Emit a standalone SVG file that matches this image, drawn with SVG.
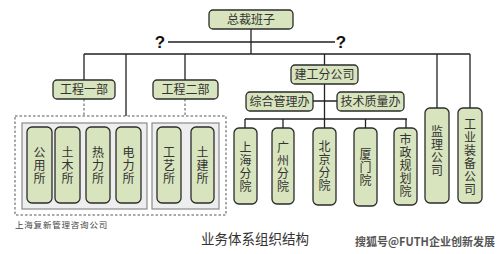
<svg xmlns="http://www.w3.org/2000/svg" width="499" height="254" viewBox="0 0 499 254">
<style>
.n{fill:#d7e4bd;stroke:#2b2b2b;stroke-width:1.3}
.g{fill:#eeeeee;stroke:#8a8a8a;stroke-width:1.2}
.t{font-family:"Noto Sans CJK SC","Noto Sans",sans-serif;font-size:12px;fill:#333;text-anchor:middle}
.v{font-family:"Noto Sans CJK SC","Noto Sans",sans-serif;font-size:12px;fill:#333;text-anchor:middle;writing-mode:vertical-rl;letter-spacing:1px}
.c{fill:none;stroke:#222;stroke-width:1.3}
.d{fill:none;stroke:#555;stroke-width:1;stroke-dasharray:2.5 2}
.q{font-family:"Liberation Sans",Arial,sans-serif;font-size:17px;font-weight:bold;fill:#111;text-anchor:middle}
</style>
<rect width="499" height="254" fill="#ffffff"/>
<g id="connectors">
<path class="c" d="M251 29V54M168 42H335M84 54H470M84 54V80M126 54V116M185 54V80M324.5 54V65M437 54V108M470 54V108M324.5 84V119M313 101H337M245 119H407M245 119V128M283 119V128M324.5 119V128M365.5 119V128M406 119V128"/>
<path class="d" d="M84 99V116M185 99V116"/>
<rect class="d" x="15" y="116" width="211" height="99"/>
</g>
<text class="q" x="160" y="48">?</text>
<text class="q" x="341" y="48">?</text>
<g id="zongcai"><rect class="n" x="209" y="10" width="84" height="19" rx="4"/><text class="t" x="251" y="24">总裁班子</text></g>
<g id="gc1"><rect class="n" x="53" y="80" width="62" height="19" rx="4"/><text class="t" x="84" y="94">工程一部</text></g>
<g id="gc2"><rect class="n" x="153" y="80" width="65" height="19" rx="4"/><text class="t" x="185.5" y="94">工程二部</text></g>
<g id="jg"><rect class="n" x="291" y="65" width="67" height="19" rx="4"/><text class="t" x="324.5" y="79">建工分公司</text></g>
<g id="zh"><rect class="n" x="246" y="92" width="67" height="19" rx="4"/><text class="t" x="279.5" y="106">综合管理办</text></g>
<g id="js"><rect class="n" x="337" y="92" width="67" height="19" rx="4"/><text class="t" x="370.5" y="106">技术质量办</text></g>
<g id="grp1"><rect class="g" x="22" y="123" width="125" height="86"/></g>
<g id="grp2"><rect class="g" x="152" y="123" width="67" height="86"/></g>
<g id="gy"><rect class="n" x="27" y="127" width="25" height="76" rx="5"/><text class="v" x="39.5" y="166">公用所</text></g>
<g id="tm"><rect class="n" x="55" y="127" width="25" height="76" rx="5"/><text class="v" x="67.5" y="166">土木所</text></g>
<g id="rl"><rect class="n" x="86" y="127" width="24" height="76" rx="5"/><text class="v" x="98" y="166">热力所</text></g>
<g id="dl"><rect class="n" x="116" y="127" width="25" height="76" rx="5"/><text class="v" x="128.5" y="166">电力所</text></g>
<g id="gyi"><rect class="n" x="157" y="127" width="24" height="76" rx="5"/><text class="v" x="169" y="166">工艺所</text></g>
<g id="tj"><rect class="n" x="191" y="127" width="23" height="76" rx="5"/><text class="v" x="202.5" y="166">土建所</text></g>
<g id="sh"><rect class="n" x="234" y="128" width="23" height="76" rx="5"/><text class="v" x="245.5" y="167">上海分院</text></g>
<g id="gz"><rect class="n" x="272" y="128" width="22" height="76" rx="5"/><text class="v" x="283" y="167">广州分院</text></g>
<g id="bj"><rect class="n" x="313" y="128" width="23" height="77" rx="5"/><text class="v" x="324.5" y="166">北京分院</text></g>
<g id="xm"><rect class="n" x="354" y="128" width="23" height="78" rx="5"/><text class="v" x="365.5" y="168">厦门院</text></g>
<g id="sz"><rect class="n" x="394" y="128" width="23" height="77" rx="5"/><text class="v" x="405.5" y="166">市政规划院</text></g>
<g id="jl"><rect class="n" x="425" y="108" width="24" height="95" rx="5"/><text class="v" x="437" y="151">监理公司</text></g>
<g id="gyzb"><rect class="n" x="458" y="108" width="24" height="95" rx="5"/><text class="v" x="470" y="157">工业装备公司</text></g>
<text x="15" y="228" font-family="'Noto Sans CJK SC',sans-serif" font-size="8.5" letter-spacing="0.8" fill="#444">上海复新管理咨询公司</text>
<text x="201" y="244" font-family="'Noto Sans CJK SC',sans-serif" font-size="13.5" fill="#333">业务体系组织结构</text>
<text x="355" y="246" font-family="'Noto Sans CJK SC',sans-serif" font-size="11" font-weight="bold" fill="#555">搜狐号@FUTH企业创新发展</text>
</svg>
